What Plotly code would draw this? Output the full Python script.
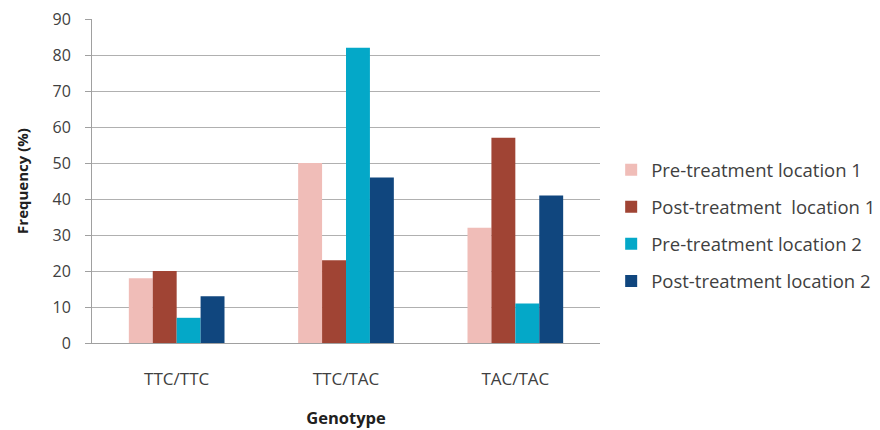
import plotly.graph_objects as go

categories = ["TTC/TTC", "TTC/TAC", "TAC/TAC"]
series_names = ["Pre-treatment location 1", "Post-treatment  location 1",
                "Pre-treatment location 2", "Post-treatment location 2"]
pre_loc1 = [18, 50, 32]
post_loc1 = [20, 23, 57]
pre_loc2 = [7, 82, 11]
post_loc2 = [13, 46, 41]
colors = ["#F0BDB8", "#A04434", "#04A8C8", "#10467E"]

fig = go.Figure()
for i, (name, vals) in enumerate(zip(series_names, [pre_loc1, post_loc1, pre_loc2, post_loc2])):
    fig.add_trace(go.Bar(x=categories, y=vals, name=name, marker_color=colors[i],
                         marker_line_width=0, legendgroup=f"g{i}"))

font_family = "Open Sans, Liberation Sans, sans-serif"
fig.update_layout(
    width=872, height=422,
    barmode="group", bargap=0.435, bargroupgap=0,
    plot_bgcolor="white", paper_bgcolor="white",
    margin=dict(l=84, r=280, t=11, b=87, autoexpand=False),
    font=dict(family=font_family, color="#404040", size=16),
    legend=dict(x=1.022, y=0.362, xanchor="left", yanchor="middle",
                font=dict(size=18.5, color="#404040"), tracegroupgap=10,
                itemwidth=30),
    xaxis=dict(showline=True, linecolor="#A0A0A0", linewidth=1, automargin=False,
               title=dict(text="<b>Genotype</b>", font=dict(size=16.5, color="#202020"), standoff=23),
               tickfont=dict(size=17, color="#404040"), ticks="", ticklabelstandoff=21),
    yaxis=dict(range=[0, 90], dtick=10, showgrid=True, gridcolor="#B0B0B0", gridwidth=1,
               showline=True, linecolor="#A0A0A0", linewidth=1, ticks="outside",
               ticklen=6, tickcolor="#A0A0A0", automargin=False, ticklabelstandoff=11,
               ticklabeloverflow="allow",
               title=dict(text="<b>Frequency (%)</b>", font=dict(size=15, color="#202020"), standoff=20),
               tickfont=dict(size=16, color="#404040"), zeroline=False),
)
fig.write_html("out.html")
